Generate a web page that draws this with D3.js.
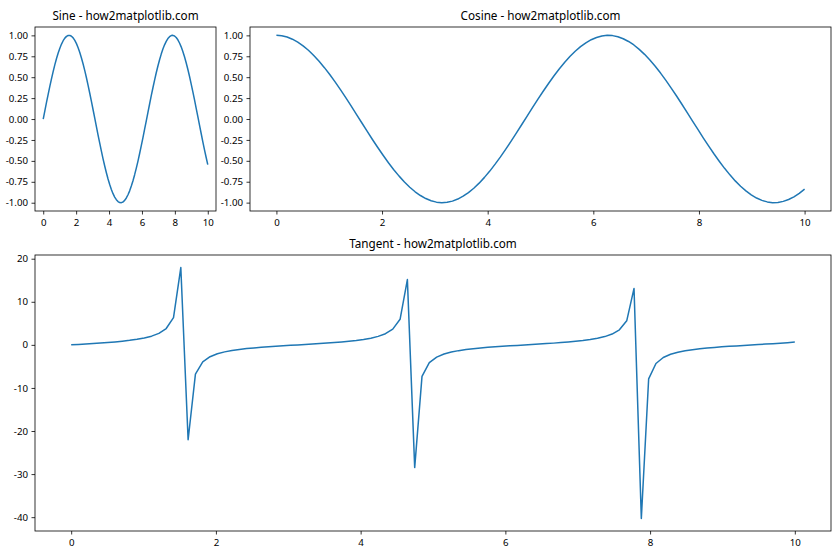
<!DOCTYPE html>
<html>
<head>
<meta charset="utf-8">
<script src="https://cdn.jsdelivr.net/npm/d3@7"></script>
<style>
  html, body { margin: 0; padding: 0; background: #fff; }
  svg { display: block; }
  text { font-family: "Noto Sans", "DejaVu Sans", sans-serif; fill: #000; }
</style>
</head>
<body>
<svg id="chart" width="840" height="560"></svg>
<script>
// ---- data ----
const xValues = [0,0.101,0.202,0.303,0.404,0.505,0.606,0.707,0.808,0.909,
  1.010,1.111,1.212,1.313,1.414,1.515,1.616,1.717,1.818,1.919,
  2.020,2.121,2.222,2.323,2.424,2.525,2.626,2.727,2.828,2.929,
  3.030,3.131,3.232,3.333,3.434,3.535,3.636,3.737,3.838,3.939,
  4.040,4.141,4.242,4.343,4.444,4.545,4.646,4.747,4.848,4.949,
  5.051,5.152,5.253,5.354,5.455,5.556,5.657,5.758,5.859,5.960,
  6.061,6.162,6.263,6.364,6.465,6.566,6.667,6.768,6.869,6.970,
  7.071,7.172,7.273,7.374,7.475,7.576,7.677,7.778,7.879,7.980,
  8.081,8.182,8.283,8.384,8.485,8.586,8.687,8.788,8.889,8.990,
  9.091,9.192,9.293,9.394,9.495,9.596,9.697,9.798,9.899,10];

const sineValues = [0,0.101,0.201,0.298,0.393,0.484,0.570,0.650,0.723,0.789,
  0.847,0.896,0.936,0.967,0.988,0.998,0.999,0.989,0.970,0.939,
  0.901,0.852,0.795,0.730,0.657,0.578,0.493,0.403,0.308,0.211,
  0.111,0.010,-0.091,-0.191,-0.289,-0.384,-0.475,-0.561,-0.642,-0.716,
  -0.783,-0.841,-0.892,-0.933,-0.964,-0.986,-0.998,-0.999,-0.991,-0.972,
  -0.943,-0.905,-0.858,-0.801,-0.737,-0.665,-0.586,-0.502,-0.412,-0.318,
  -0.221,-0.121,-0.021,0.080,0.180,0.279,0.374,0.466,0.553,0.634,
  0.709,0.776,0.836,0.887,0.929,0.962,0.984,0.997,1.000,0.992,
  0.974,0.947,0.909,0.863,0.808,0.744,0.673,0.595,0.511,0.421,
  0.328,0.231,0.131,0.031,-0.070,-0.170,-0.269,-0.365,-0.457,-0.544];

const cosineValues = [1,0.995,0.980,0.954,0.919,0.875,0.822,0.760,0.691,0.614,
  0.532,0.444,0.351,0.255,0.156,0.056,-0.045,-0.146,-0.245,-0.341,
  -0.434,-0.523,-0.606,-0.683,-0.754,-0.816,-0.870,-0.915,-0.951,-0.978,
  -0.994,-1.000,-0.996,-0.982,-0.957,-0.923,-0.880,-0.828,-0.767,-0.698,
  -0.623,-0.540,-0.453,-0.361,-0.265,-0.166,-0.066,0.035,0.136,0.235,
  0.332,0.425,0.514,0.598,0.676,0.747,0.810,0.865,0.911,0.948,
  0.975,0.993,1.000,0.997,0.984,0.960,0.927,0.885,0.833,0.773,
  0.706,0.631,0.549,0.462,0.370,0.275,0.176,0.076,-0.025,-0.125,
  -0.225,-0.322,-0.416,-0.505,-0.590,-0.668,-0.740,-0.804,-0.860,-0.907,
  -0.945,-0.973,-0.991,-1.000,-0.998,-0.985,-0.963,-0.931,-0.890,-0.839];

const tangentValues = [0,0.101,0.205,0.313,0.428,0.553,0.693,0.854,1.046,1.284,
  1.592,2.020,2.667,3.795,6.331,17.95,-22.03,-6.783,-3.960,-2.753,
  -2.073,-1.630,-1.312,-1.068,-0.872,-0.708,-0.566,-0.440,-0.324,-0.216,
  -0.112,-0.010,0.091,0.194,0.301,0.415,0.540,0.678,0.837,1.025,
  1.257,1.557,1.969,2.586,3.642,5.934,15.15,-28.49,-7.302,-4.138,
  -2.844,-2.129,-1.668,-1.340,-1.090,-0.891,-0.724,-0.580,-0.452,-0.335,
  -0.226,-0.122,-0.021,0.081,0.184,0.290,0.404,0.526,0.663,0.820,
  1.004,1.231,1.522,1.920,2.509,3.501,5.584,13.10,-40.30,-7.906,
  -4.333,-2.940,-2.187,-1.707,-1.369,-1.113,-0.909,-0.740,-0.594,-0.465,
  -0.347,-0.237,-0.133,-0.031,0.070,0.173,0.279,0.392,0.513,0.648];

const titles = ["Sine - how2matplotlib.com", "Cosine - how2matplotlib.com", "Tangent - how2matplotlib.com"];
const xTicks = [0, 2, 4, 6, 8, 10];
const trigYTicks = [-1.00, -0.75, -0.50, -0.25, 0.00, 0.25, 0.50, 0.75, 1.00];
const tanYTicks = [-40, -30, -20, -10, 0, 10, 20];

// ---- layout ----
const svg = d3.select("#chart");
const panels = [
  { title: titles[0], ys: sineValues, box: {l: 35, r: 216, t: 27, b: 211}, yTicks: trigYTicks, fmt: d3.format(".2f") },
  { title: titles[1], ys: cosineValues, box: {l: 250, r: 831, t: 27, b: 211}, yTicks: trigYTicks, fmt: d3.format(".2f") },
  { title: titles[2], ys: tangentValues, box: {l: 35, r: 831, t: 255, b: 531}, yTicks: tanYTicks, fmt: d3.format("d") }
];

function pad(ext) { const m = (ext[1] - ext[0]) * 0.05; return [ext[0] - m, ext[1] + m]; }

panels.forEach(p => {
  const b = p.box;
  const x = d3.scaleLinear().domain(pad(d3.extent(xValues))).range([b.l, b.r]);
  const y = d3.scaleLinear().domain(pad(d3.extent(p.ys))).range([b.b, b.t]);
  const g = svg.append("g");

  const line = d3.line().x((d, i) => x(xValues[i])).y(d => y(d));
  g.append("path").datum(p.ys)
    .attr("d", line)
    .attr("fill", "none")
    .attr("stroke", "#1f77b4")
    .attr("stroke-width", 1.5)
    .attr("stroke-linejoin", "round")
    .attr("stroke-linecap", "butt");

  const xAxis = d3.axisBottom(x).tickValues(xTicks).tickSize(3.5).tickPadding(4.5).tickFormat(d3.format("d"));
  const yAxis = d3.axisLeft(y).tickValues(p.yTicks).tickSize(3.5).tickPadding(3.5)
    .tickFormat(d => p.fmt(d).replace("−", "-"));

  const gx = g.append("g").attr("transform", `translate(0,${b.b})`).call(xAxis);
  const gy = g.append("g").attr("transform", `translate(${b.l},0)`).call(yAxis);
  [gx, gy].forEach(a => {
    a.select(".domain").remove();
    a.selectAll(".tick line").attr("stroke", "#000").attr("stroke-width", 0.8);
    a.selectAll(".tick text").attr("fill", "#000").style("font-size", "9.7px").style("font-family", '"Noto Sans", sans-serif');
  });

  g.append("rect")
    .attr("x", b.l).attr("y", b.t)
    .attr("width", b.r - b.l).attr("height", b.b - b.t)
    .attr("fill", "none").attr("stroke", "#000").attr("stroke-width", 0.8);

  g.append("text")
    .attr("x", (b.l + b.r) / 2).attr("y", b.t - 7)
    .attr("text-anchor", "middle")
    .style("font-size", "11.7px")
    .text(p.title);
});
</script>
</body>
</html>
